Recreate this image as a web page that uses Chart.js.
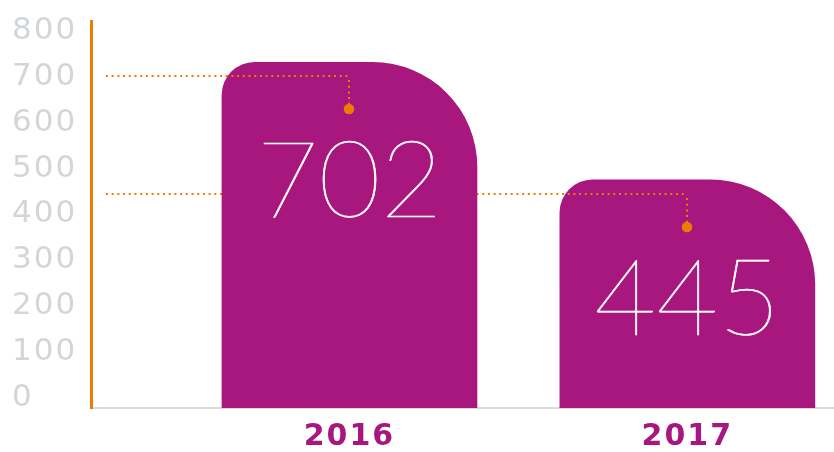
<!DOCTYPE html>
<html>
<head>
<meta charset="utf-8">
<script src="https://cdn.jsdelivr.net/npm/chart.js@4/dist/chart.umd.min.js"></script>
<style>
  html, body { margin: 0; padding: 0; background: #fff; }
  #wrap { width: 834px; height: 452px; }
</style>
</head>
<body>
<div id="wrap"><canvas id="chart"></canvas></div>
<script>
const categories = ['2016', '2017']
const values = [702, 445]
// where the bar tops sit on the axis (the rounded caps reach above the value)
const barTops = [732, 475]

const purple = '#a7177e'
const orange = '#ef7c00'
const tickGray = '#d3d6d9'

function dottedLine(ctx, x0, y0, x1, y1) {
  ctx.save()
  ctx.beginPath()
  ctx.setLineDash([2, 3.7])
  ctx.lineWidth = 2
  ctx.strokeStyle = orange
  ctx.moveTo(x0, y0)
  ctx.lineTo(x1, y1)
  ctx.stroke()
  ctx.restore()
}

// dotted leader from the y axis to each bar, then a drop and a dot
const leaders = {
  id: 'leaders',
  beforeDraw(chart) {
    // axis labels in the picture are a little spaced out
    chart.ctx.letterSpacing = '2px'
  },
  beforeDatasetsDraw(chart) {
    const { ctx, chartArea, scales } = chart
    ctx.letterSpacing = '0px'
    const meta = chart.getDatasetMeta(0)
    values.forEach((v, i) => {
      const y = Math.round(scales.y.getPixelForValue(v))
      dottedLine(ctx, chartArea.left + 15, y, meta.data[i].x, y)
    })
  },
  afterDatasetsDraw(chart) {
    const { ctx, chartArea, scales } = chart
    const meta = chart.getDatasetMeta(0)
    values.forEach((v, i) => {
      const bar = meta.data[i]
      const y = Math.round(scales.y.getPixelForValue(v))
      const cx = Math.round(bar.x)
      // the part of the leader lying over its own bar
      ctx.save()
      ctx.beginPath()
      ctx.rect(bar.x - bar.width / 2, y - 5, bar.width, 10)
      ctx.clip()
      dottedLine(ctx, chartArea.left + 15, y, cx, y)
      ctx.restore()

      dottedLine(ctx, cx, y + 4, cx, y + 29)
      ctx.save()
      ctx.fillStyle = orange
      ctx.beginPath()
      ctx.arc(cx, y + 33, 5.3, 0, Math.PI * 2)
      ctx.fill()

      ctx.fillStyle = '#ffffff'
      ctx.strokeStyle = '#ffffff'
      ctx.lineWidth = 0.7
      ctx.font = '100 107px Lato'
      ctx.textAlign = 'center'
      ctx.textBaseline = 'alphabetic'
      ctx.fillText(String(v), bar.x, y + 141)
      ctx.strokeText(String(v), bar.x, y + 141)
      ctx.restore()
    })
  }
}

new Chart(document.getElementById('chart'), {
  type: 'bar',
  data: {
    datasets: [{
      data: categories.map((c, i) => ({ x: Number(c), y: barTops[i] })),
      backgroundColor: purple,
      borderWidth: 0,
      barThickness: 255,
      base: -23,
      borderSkipped: 'start',
      borderRadius: { topLeft: 33, topRight: 105, bottomLeft: 0, bottomRight: 0 }
    }]
  },
  options: {
    responsive: true,
    maintainAspectRatio: false,
    animation: false,
    layout: { padding: { left: 12, top: 21, right: 0, bottom: 0 } },
    plugins: {
      legend: { display: false },
      tooltip: { enabled: false }
    },
    scales: {
      x: {
        type: 'linear',
        min: 2015.235,
        max: 2017.434,
        offset: false,
        grid: { display: false, drawTicks: false },
        border: { display: true, color: '#dadbdd', width: 2 },
        ticks: {
          stepSize: 1,
          includeBounds: false,
          padding: 11,
          color: purple,
          font: { family: 'DejaVu Sans', size: 30, weight: 'bold' },
          callback: (v) => categories.includes(String(v)) ? String(v) : ''
        },
        afterFit: (scale) => {
          scale.height = 44
          scale.paddingLeft = 0
          scale.paddingRight = 0
        }
      },
      y: {
        min: -23,
        max: 822,
        beginAtZero: false,
        grid: { display: false, drawTicks: false },
        border: { display: true, color: orange, width: 3 },
        ticks: {
          stepSize: 100,
          includeBounds: false,
          crossAlign: 'far',
          padding: 14,
          color: tickGray,
          font: { family: 'DejaVu Sans', size: 31 },
          callback: (v) => String(v)
        },
        afterFit: (scale) => {
          scale.width = 79
          scale.paddingTop = 0
          scale.paddingBottom = 0
        }
      }
    }
  },
  plugins: [leaders]
})
</script>
</body>
</html>
